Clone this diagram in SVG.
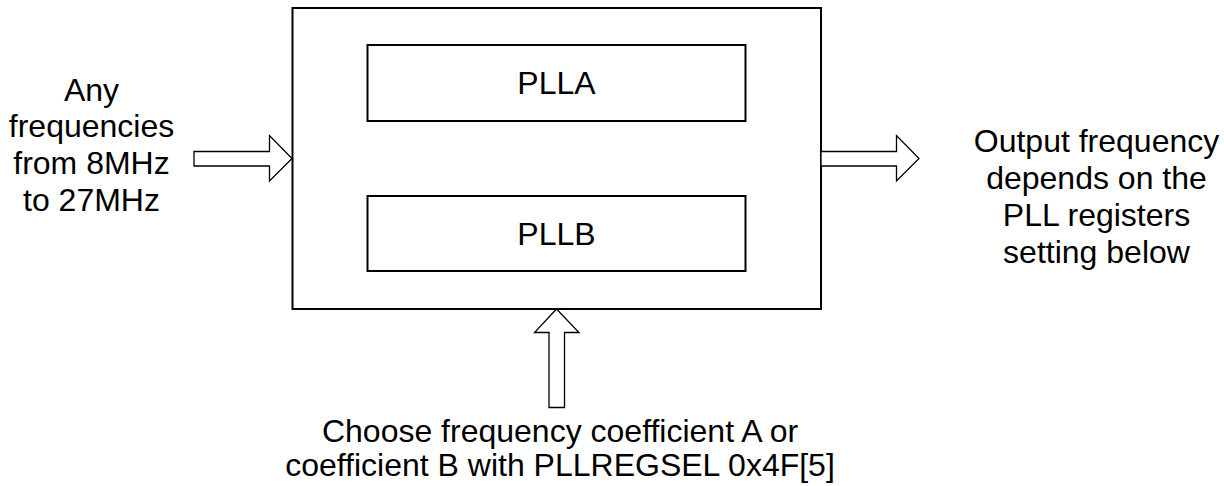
<svg xmlns="http://www.w3.org/2000/svg" width="1224" height="486" viewBox="0 0 1224 486">
<style>
.box{fill:#fff;stroke:#000;stroke-width:2}
.arr{fill:#fff;stroke:#000;stroke-width:1.3;stroke-linejoin:miter}
text{font-family:"Liberation Sans",Arial,sans-serif;font-size:32px;fill:#000;text-anchor:middle}
</style>
<rect width="1224" height="486" fill="#fff"/>
<g id="main">
<rect class="box" x="292.5" y="8" width="528.5" height="301"/>
</g>
<g id="plla">
<rect class="box" x="367.5" y="45" width="378" height="76"/>
<text x="556.5" y="93.5">PLLA</text>
</g>
<g id="pllb">
<rect class="box" x="367.5" y="196" width="378" height="75"/>
<text x="556.5" y="244.5">PLLB</text>
</g>
<g id="connectors">
<polygon class="arr" points="194,151.5 269.5,151.5 269.5,135.5 292,158.5 269.5,181 269.5,166 194,166"/>
<polygon class="arr" points="821,151.5 896.5,151.5 896.5,135.5 919,158.5 896.5,181 896.5,166 821,166"/>
<polygon class="arr" points="549,407.5 549,332.5 534.5,332.5 556.5,309 579,332.5 564.5,332.5 564.5,407.5"/>
</g>
<g id="input-label">
<text x="91.5" y="100.5">Any</text>
<text x="91.5" y="137">frequencies</text>
<text x="91.5" y="174">from 8MHz</text>
<text x="91.5" y="210.5">to 27MHz</text>
</g>
<g id="output-label">
<text x="1096.5" y="152">Output frequency</text>
<text x="1096.5" y="189">depends on the</text>
<text x="1096.5" y="226">PLL registers</text>
<text x="1096.5" y="263">setting below</text>
</g>
<g id="select-label">
<text x="560" y="442">Choose frequency coefficient A or</text>
<text x="560" y="476">coefficient B with PLLREGSEL 0x4F[5]</text>
</g>
</svg>
